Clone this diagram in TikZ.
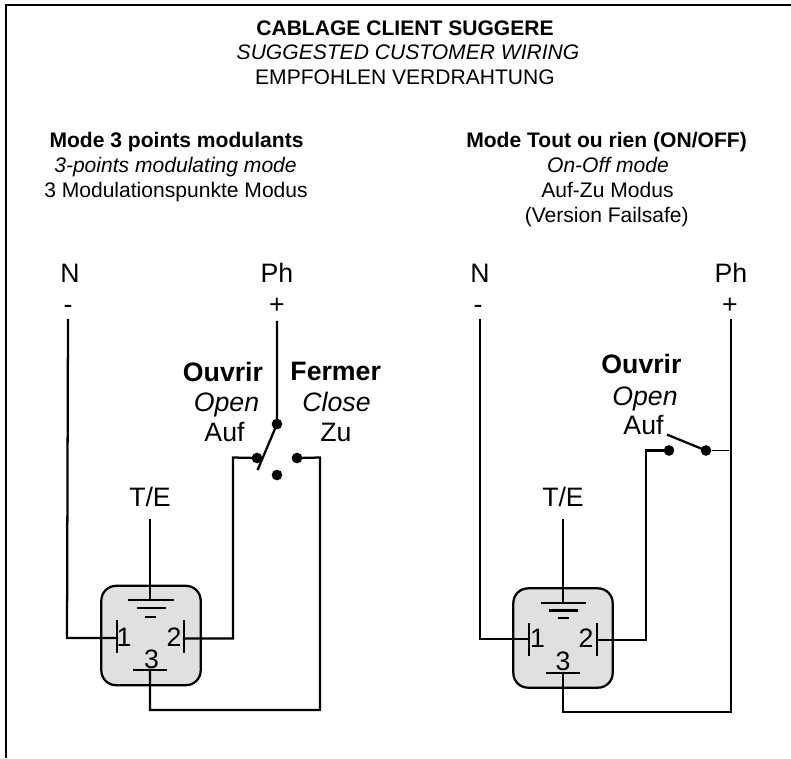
\documentclass[tikz,border=0pt]{standalone}
\usepackage{fontspec}
\setmainfont{Liberation Sans}
\tikzset{
  x=0.75pt,y=-0.75pt,
  wire/.style={line width=1.7pt,line cap=rect,line join=miter},
  thinwire/.style={line width=0.8pt},
  relay/.style={draw=black,fill=black!12,line width=1.7pt,rounded corners=11pt},
  dot/.style={circle,fill=black,inner sep=0pt,minimum size=8pt},
  lab/.style={inner sep=0pt,anchor=base,font=\fontsize{20}{22}\selectfont},
  sw/.style={inner sep=0pt,anchor=base,font=\fontsize{20}{22}\selectfont},
  swb/.style={inner sep=0pt,anchor=base,font=\fontsize{20}{22}\selectfont\bfseries},
  swi/.style={inner sep=0pt,anchor=base,font=\fontsize{20}{22}\selectfont\itshape},
  ttl/.style={inner sep=0pt,anchor=base,font=\fontsize{15.8}{18}\selectfont},
  ttb/.style={inner sep=0pt,anchor=base,font=\fontsize{15.8}{18}\selectfont\bfseries},
  tti/.style={inner sep=0pt,anchor=base,font=\fontsize{15.8}{18}\selectfont\itshape},
}
\begin{document}
\begin{tikzpicture}
\useasboundingbox (0,0) rectangle (791,758);
\coordinate (fa) at (6,758); \coordinate (fb) at (6,5); \coordinate (fc) at (791,5);
\draw[line width=1.7pt] (fa) -- (fb) -- (fc);
% titles
\node[ttb] (t1) at (405,35) {CABLAGE CLIENT SUGGERE};
\node[tti] (t2) at (408,59.5) {SUGGESTED CUSTOMER WIRING};
\node[ttl] (t3) at (405,84) {EMPFOHLEN VERDRAHTUNG};
\node[ttb] (l1) at (176.5,147) {Mode 3 points modulants};
\node[tti] (l2) at (175.5,172) {3-points modulating mode};
\node[ttl] (l3) at (176,197) {3 Modulationspunkte Modus};
\node[ttb] (r1) at (606.5,147) {Mode Tout ou rien (ON/OFF)};
\node[tti] (r2) at (608,172) {On-Off mode};
\node[ttl] (r3) at (607.5,197) {Auf-Zu Modus};
\node[ttl] (r4) at (606.7,222) {(Version Failsafe)};
% left circuit labels
\node[lab] (lN) at (70,282.5) {N};
\node[lab] (lM) at (68,313) {-};
\node[lab] (lPh) at (277,282.5) {Ph};
\node[lab] (lP) at (277,313) {+};
\node[swb] (lO) at (223,381.5) {Ouvrir};
\node[swi] (lOp) at (226.5,411.5) {Open};
\node[sw] (lA) at (224.5,441.5) {Auf};
\node[swb] (lF) at (335.7,380) {Fermer};
\node[swi] (lC) at (336.5,411) {Close};
\node[sw] (lZ) at (336,441.5) {Zu};
\node[lab] (lTE) at (150,506) {T/E};
% left relay
\node[relay,minimum width=74.5pt,minimum height=74.5pt] (lR) at (151,635.5) {};
\node[lab] (l1n) at (124,646.7) {1};
\node[lab] (l2n) at (174,646.7) {2};
\node[lab] (l3n) at (151.5,668) {3};
% left coordinates
\coordinate (lNt) at (68,320); \coordinate (lNc) at (67,638); \coordinate (lb1) at (117,638);
\coordinate (lb1a) at (117,621); \coordinate (lb1b) at (117,652);
\coordinate (lb2a) at (184,621); \coordinate (lb2b) at (184,652); \coordinate (lb2) at (184,638.5);
\coordinate (l2c) at (233,638.5); \coordinate (l2u) at (233,457.5);
\node[dot] (dA) at (257,458) {};
\node[dot] (dB) at (297,458) {};
\node[dot] (dC) at (277,475) {};
\node[dot] (dD) at (277,424) {};
\coordinate (lPt) at (277,322); \coordinate (larm) at (258,469);
\coordinate (lTt) at (150,520); \coordinate (lg1) at (150,600);
\coordinate (lg1a) at (129,600); \coordinate (lg1b) at (173,600);
\coordinate (lg2a) at (138,608); \coordinate (lg2b) at (165,608);
\coordinate (lg3a) at (146,617); \coordinate (lg3b) at (155,617);
\coordinate (lb3a) at (134,670); \coordinate (lb3b) at (166,670); \coordinate (lb3) at (150,670);
\coordinate (lb) at (150,710); \coordinate (lc) at (320,710); \coordinate (ld) at (320,457.5);
\draw[wire] (lNt) -- (lNc) -- (lb1);
\draw[wire] (lb1a) -- (lb1b);
\draw[wire] (lb2a) -- (lb2b);
\draw[wire] (lb2) -- (l2c) -- (l2u) -- (dA);
\draw[wire] (lPt) -- (dD) -- (larm);
\draw[wire] (dB) -- (ld) -- (lc) -- (lb) -- (lb3);
\draw[wire] (lb3a) -- (lb3b);
\draw[wire] (lTt) -- (lg1);
\draw[wire] (lg1a) -- (lg1b);
\draw[wire] (lg2a) -- (lg2b);
\draw[wire] (lg3a) -- (lg3b);
% right circuit labels
\node[lab] (rN) at (480,282.5) {N};
\node[lab] (rM) at (478,313) {-};
\node[lab] (rPh) at (731,282.5) {Ph};
\node[lab] (rP) at (730,313) {+};
\node[swb] (rO) at (641.5,373) {Ouvrir};
\node[swi] (rOp) at (645,405) {Open};
\node[sw] (rA) at (643.5,434) {Auf};
\node[lab] (rTE) at (563,506) {T/E};
% right relay
\node[relay,minimum width=74.5pt,minimum height=74.5pt] (rR) at (563,638) {};
\node[lab] (r1n) at (537.5,647.5) {1};
\node[lab] (r2n) at (586,647.5) {2};
\node[lab] (r3n) at (563,670) {3};
\coordinate (rNt) at (480,320); \coordinate (rNc) at (480,639); \coordinate (rb1) at (529,639);
\coordinate (rb1a) at (529,624); \coordinate (rb1b) at (529,655);
\coordinate (rb2a) at (597,624); \coordinate (rb2b) at (597,655); \coordinate (rb2) at (597,640);
\coordinate (r2c) at (646,640); \coordinate (r2u) at (646,450.5);
\node[dot] (eA) at (669,450.5) {};
\node[dot] (eB) at (706,450.5) {};
\coordinate (rarm) at (668,435); \coordinate (rth) at (729,450.5);
\coordinate (rPt) at (731,320); \coordinate (rb) at (731,712); \coordinate (rc) at (563,712);
\coordinate (rb3) at (563,673); \coordinate (rb3a) at (547,673); \coordinate (rb3b) at (579,673);
\coordinate (rTt) at (563,520); \coordinate (rg1) at (563,603);
\coordinate (rg1a) at (542,603); \coordinate (rg1b) at (585,603);
\coordinate (rg2a) at (550,610.5); \coordinate (rg2b) at (577,610.5);
\coordinate (rg3a) at (559,618); \coordinate (rg3b) at (568,618);
\draw[wire] (rNt) -- (rNc) -- (rb1);
\draw[wire] (rb1a) -- (rb1b);
\draw[wire] (rb2a) -- (rb2b);
\draw[wire] (rb2) -- (r2c) -- (r2u) -- (eA);
\draw[wire] (rarm) -- (eB);
\draw[thinwire] (eB) -- (rth);
\draw[wire] (rPt) -- (rb) -- (rc) -- (rb3);
\draw[wire] (rb3a) -- (rb3b);
\draw[wire] (rTt) -- (rg1);
\draw[wire] (rg1a) -- (rg1b);
\draw[wire] (rg2a) -- (rg2b);
\draw[wire] (rg3a) -- (rg3b);
\end{tikzpicture}
\end{document}
